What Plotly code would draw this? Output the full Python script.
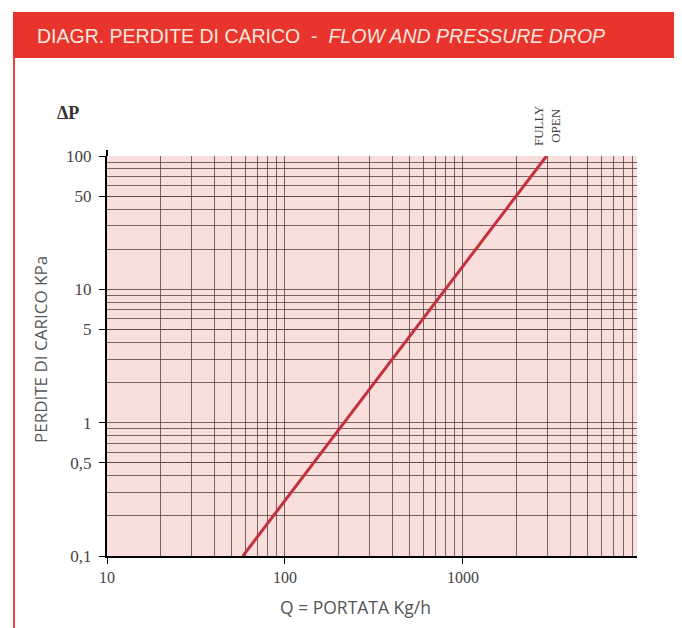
import plotly.graph_objects as go

# ---- data ----
flow_kgh = [58, 2950]          # Q = portata Kg/h
pressure_kpa = [0.1, 100]      # ΔP perdite di carico kPa

y_tick_vals = [0.1, 0.5, 1, 5, 10, 50, 100]
y_tick_text = ["0,1", "0,5", "1", "5", "10", "50", "100"]
x_tick_vals = [10, 100, 1000]
x_tick_text = ["10", "100", "1000"]

x_minor = [m * d for d in (10, 100, 1000) for m in range(2, 10)]
y_minor = [m * d for d in (0.1, 1, 10) for m in range(2, 10)]

# page body has an 8px offset
OFF = 8
W, H = 682, 628
# plot area in screen px: x 107..637, y 156..556
L, T = 107 - OFF, 156 - OFF
R = W - (637 - OFF)
B = H - (556 - OFF)
pw, ph = W - L - R, H - T - B

def px_x(p):
    return (p - OFF - L) / pw

def px_y(p):
    return (H - B - (p - OFF)) / ph

grid_col = "rgba(90,65,65,0.8)"
serif = "Liberation Serif, Times New Roman, serif"
sans = "Open Sans, Liberation Sans, Arial, sans-serif"
title_font = "Liberation Sans, Arial, sans-serif"

fig = go.Figure()
fig.add_trace(go.Scatter(
    x=flow_kgh, y=pressure_kpa, mode="lines",
    line=dict(color="#c4303c", width=3), showlegend=False, hoverinfo="skip"))

fig.update_xaxes(
    type="log", range=[1, 3.978],
    tickmode="array", tickvals=x_tick_vals, ticktext=x_tick_text,
    ticks="outside", ticklen=6, tickcolor="black", tickwidth=1,
    showline=True, linecolor="black", linewidth=2,
    showgrid=True, gridcolor=grid_col, gridwidth=1,
    minor=dict(tickmode="array", tickvals=x_minor, showgrid=True,
               gridcolor=grid_col, gridwidth=1, ticks=""),
    tickfont=dict(family=serif, size=16, color="#444"),
    zeroline=False,
)
fig.update_yaxes(
    type="log", range=[-1, 2],
    tickmode="array", tickvals=y_tick_vals, ticktext=y_tick_text,
    ticks="outside", ticklen=6, tickcolor="black", tickwidth=1,
    ticklabelstandoff=4,
    showline=True, linecolor="black", linewidth=2,
    showgrid=True, gridcolor=grid_col, gridwidth=1,
    minor=dict(tickmode="array", tickvals=y_minor, showgrid=True,
               gridcolor=grid_col, gridwidth=1, ticks=""),
    tickfont=dict(family=serif, size=17, color="#444"),
    zeroline=False,
)

shapes = [
    # red title bar
    dict(type="rect", xref="paper", yref="paper",
         x0=px_x(13), x1=px_x(700), y0=px_y(58), y1=px_y(12),
         fillcolor="#e8342d", line=dict(width=0), layer="above"),
    # red left frame line
    dict(type="line", xref="paper", yref="paper",
         x0=px_x(14), x1=px_x(14), y0=px_y(58), y1=px_y(650),
         line=dict(color="#e8443c", width=2)),
    # y axis line extends slightly above top
    dict(type="line", xref="paper", yref="paper",
         x0=0, x1=0, y0=1, y1=px_y(150),
         line=dict(color="black", width=2)),
]

annotations = [
    dict(xref="paper", yref="paper", x=px_x(35), y=px_y(36),
         xanchor="left", yanchor="middle", showarrow=False,
         text="DIAGR. PERDITE DI CARICO  -  <i>FLOW AND PRESSURE DROP</i>",
         font=dict(family=title_font, size=19.5, color="#f9e6de")),
    dict(xref="paper", yref="paper", x=px_x(68), y=px_y(113),
         xanchor="center", yanchor="middle", showarrow=False,
         text="<b>ΔP</b>", font=dict(family=serif, size=18, color="#333")),
    dict(x=3.47, y=2.0, xref="x", yref="y",
         xanchor="center", yanchor="bottom", showarrow=False,
         text="FULLY<br>OPEN", textangle=-90, yshift=8,
         font=dict(family=serif, size=13, color="#444")),
    dict(xref="paper", yref="paper", x=px_x(40), y=px_y(350),
         xanchor="center", yanchor="middle", showarrow=False,
         text="PERDITE DI CARICO KPa", textangle=-90,
         font=dict(family=sans, size=17, color="#555")),
    dict(xref="paper", yref="paper", x=px_x(355), y=px_y(607),
         xanchor="center", yanchor="middle", showarrow=False,
         text="Q = PORTATA Kg/h",
         font=dict(family=sans, size=17.5, color="#555")),
]

fig.update_layout(
    width=W, height=H,
    margin=dict(l=L, r=R, t=T, b=B),
    plot_bgcolor="#f8dfdb", paper_bgcolor="white",
    shapes=shapes, annotations=annotations,
)

fig.write_html("out.html")
